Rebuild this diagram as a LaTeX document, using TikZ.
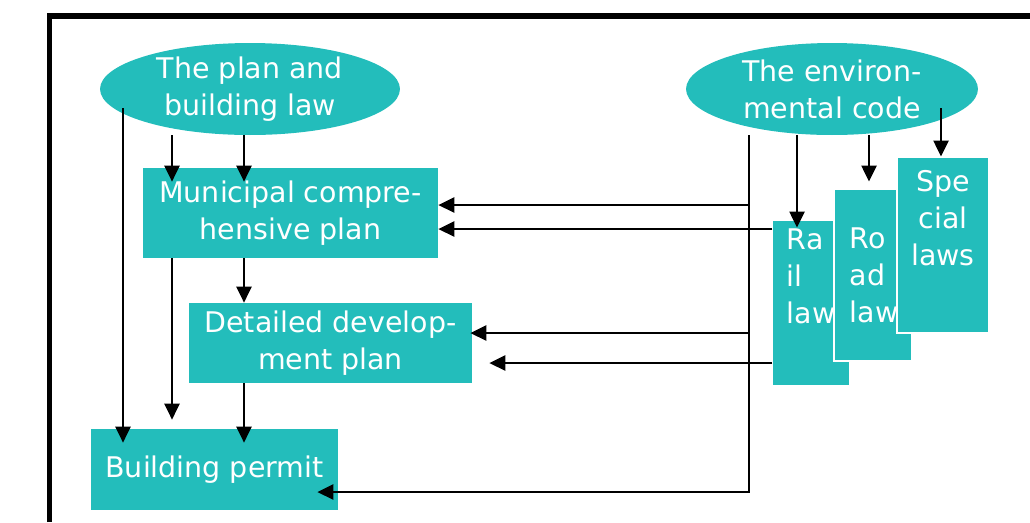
\documentclass[tikz,border=0pt]{standalone}
\usepackage{fontspec}
\setmainfont{DejaVu Sans}
\usetikzlibrary{shapes.geometric,arrows.meta}
\definecolor{lawteal}{RGB}{35,189,187}
\begin{document}
\begin{tikzpicture}[x=0.02cm, y=-0.02cm, >={Triangle[length=0.32cm,width=0.3cm]},
    font=\fontsize{16.2}{21}\selectfont,
    law/.style={ellipse, fill=lawteal, text=white, inner sep=0pt, minimum width=6cm, minimum height=1.84cm, align=center},
    plan/.style={rectangle, fill=lawteal, text=white, inner sep=0pt, align=center},
    sheet/.style={rectangle, fill=lawteal, draw=white, line width=0.6pt, inner sep=0pt},
    sheettext/.style={text=white, inner sep=0pt, align=left, anchor=north west},
    arr/.style={->, line width=1.5pt}]
    \useasboundingbox (0,0) rectangle (1030,522);
    \draw[line width=3.2pt] (49.5,522) -- (49.5,16) -- (1030,16);

    \node[law] (pbl) at (250,89) {The plan and\\building law};
    \node[law, minimum width=5.84cm] (env) at (832,89) {The environ-\\mental code};
    \node[plan, minimum width=5.9cm, minimum height=1.8cm] (muni) at (290.5,213) {Municipal compre-\\hensive plan};
    \node[plan, minimum width=5.66cm, minimum height=1.6cm] (detail) at (330.5,343) {Detailed develop-\\ment plan};
    \node[plan, minimum width=4.94cm, minimum height=1.62cm] (permit) at (214.5,469.5) {Building permit};

    % the sector laws, stacked
    \node[sheet, draw=none, minimum width=1.52cm, minimum height=3.28cm] (rail) at (811,303) {};
    \node[sheettext] (railtext) at ([xshift=0.28cm,yshift=-0.16cm]rail.north west) {Ra\\il\\law};
    \node[sheet, minimum width=1.56cm, minimum height=3.44cm] (road) at (873,275) {};
    \node[sheettext] (roadtext) at ([xshift=0.32cm,yshift=-0.78cm]road.north west) {Ro\\ad\\law};
    \node[sheet, minimum width=1.84cm, minimum height=3.52cm] (special) at (943,245) {};
    \node[sheettext, anchor=north, align=center] (spectext) at ([yshift=-0.28cm]special.north) {Spe\\cial\\laws};

    % columns and rows of the connectors
    \coordinate (ca) at (123,0);
    \coordinate (cb) at (172,0);
    \coordinate (cc) at (244,0);
    \coordinate (cd) at (749,0);
    \coordinate (ce) at (797,0);
    \coordinate (cf) at (869,0);
    \coordinate (cg) at (941,0);
    \coordinate (r1) at (0,205);
    \coordinate (r2) at (0,229);
    \coordinate (r3) at (0,333);
    \coordinate (r4) at (0,363);
    \coordinate (r5) at (0,492);

    \draw[arr, shorten <=0.38cm, shorten >=-0.28cm] (pbl.center -| ca) -- (permit.north -| ca);
    \draw[arr, shorten >=-0.28cm] (pbl.south -| cb) -- (muni.north -| cb);
    \draw[arr, shorten >=-0.28cm] (pbl.south -| cc) -- (muni.north -| cc);
    \draw[arr, shorten >=0.18cm] (muni.south -| cb) -- (permit.north -| cb);
    \draw[arr] (muni.south -| cc) -- (detail.north -| cc);
    \draw[arr, shorten >=-0.28cm] (detail.south -| cc) -- (permit.north -| cc);

    \draw[arr, shorten >=-0.42cm] (env.south -| cd) |- (permit.east |- r5);
    \draw[arr] (cd |- r1) -- (muni.east |- r1);
    \draw[arr] (rail.west |- r2) -- (muni.east |- r2);
    \draw[arr, shorten >=-0.04cm] (cd |- r3) -- (detail.east |- r3);
    \draw[arr, shorten >=0.34cm] (rail.west |- r4) -- (detail.east |- r4);
    \draw[arr, shorten >=-0.14cm] (env.south -| ce) -- (rail.north -| ce);
    \draw[arr, shorten >=0.14cm] (env.south -| cf) -- (road.north -| cf);
    \draw[arr, shorten <=0.38cm] (env.center -| cg) -- (special.north -| cg);
\end{tikzpicture}
\end{document}
